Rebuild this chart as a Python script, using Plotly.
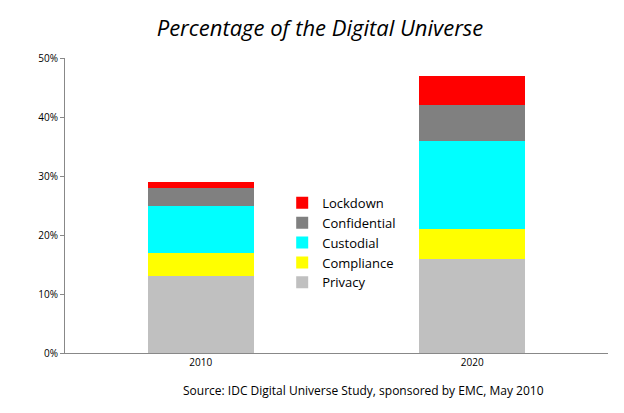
import plotly.graph_objects as go

years = ["2010", "2020"]
series_names = ["Privacy", "Compliance", "Custodial", "Confidential", "Lockdown"]
privacy = [13, 16]
compliance = [4, 5]
custodial = [8, 15]
confidential = [3, 6]
lockdown = [1, 5]
tick_vals = [0, 10, 20, 30, 40, 50]
tick_text = ["0%", "10%", "20%", "30%", "40%", "50%"]

colors = ["#C0C0C0", "#FFFF00", "#00FFFF", "#808080", "#FF0000"]
values = [privacy, compliance, custodial, confidential, lockdown]

fig = go.Figure()
for name, vals, col in zip(series_names, values, colors):
    fig.add_trace(go.Bar(
        x=years, y=vals, name=name,
        marker=dict(color=col, line=dict(width=0)),
    ))

fig.update_layout(
    barmode="stack",
    bargap=0.61,
    width=624, height=413,
    paper_bgcolor="white", plot_bgcolor="white",
    font=dict(family="Open Sans, Liberation Sans, sans-serif", size=11, color="#000"),
    title=dict(text="<i>Percentage of the Digital Universe</i>", x=0.5, xanchor="center",
               y=0.97, font=dict(size=22, family="Open Sans, sans-serif")),
    margin=dict(l=57, r=24, t=50, b=68),
    xaxis=dict(showline=True, linecolor="#888", ticks="", showgrid=False,
               tickfont=dict(size=10)),
    yaxis=dict(range=[0, 50], tickvals=tick_vals, ticktext=tick_text, showline=True,
               linecolor="#888", ticks="outside", ticklen=4, tickcolor="#888",
               showgrid=False, tickfont=dict(size=10), zeroline=False),
    legend=dict(x=0.40, y=0.56, xanchor="left", yanchor="top", traceorder="reversed",
                font=dict(size=13), bgcolor="rgba(0,0,0,0)", itemwidth=30),
    annotations=[dict(text="Source: IDC Digital Universe Study, sponsored by EMC, May 2010",
                      xref="paper", yref="paper", x=0.55, y=-0.09, xanchor="center",
                      yanchor="top", showarrow=False, font=dict(size=12))],
)

fig.write_html("out.html")
